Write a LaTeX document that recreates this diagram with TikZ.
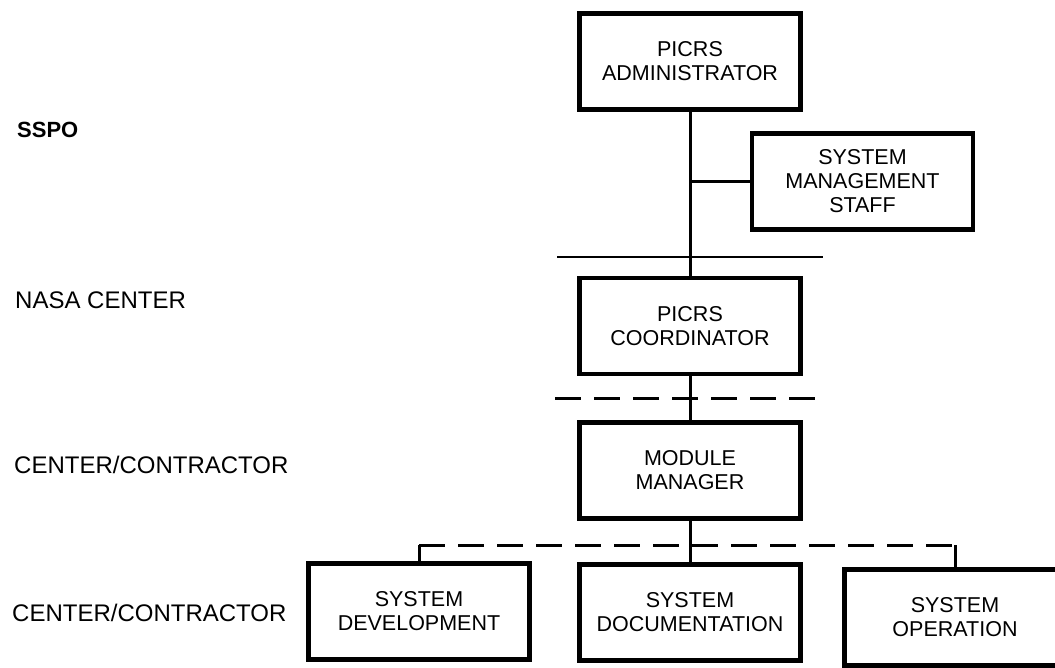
\documentclass[tikz,border=0pt]{standalone}
\usepackage{fontspec}
\setmainfont{Liberation Sans}
\begin{document}
\begin{tikzpicture}[x=1pt, y=-1pt, line join=miter,
    box/.style={draw, line width=4.5pt, minimum width=221pt, minimum height=96pt,
      align=center, inner sep=0pt, font=\fontsize{21.5}{24}\selectfont},
    link/.style={line width=3pt},
    dashlink/.style={line width=3pt, dash pattern=on 26pt off 13pt},
    level/.style={anchor=west, inner sep=0pt, font=\fontsize{24}{28}\selectfont}]
  \useasboundingbox (0,0) rectangle (1055,667);
  \clip (0,0) rectangle (1055,667);
  % levels
  \node[level, font=\fontsize{22}{26}\selectfont\bfseries] (sspo) at (17,130) {SSPO};
  \node[level] (nasa) at (15,300) {NASA CENTER};
  \node[level] (cc1) at (14,465) {CENTER/CONTRACTOR};
  \node[level] (cc2) at (12,613) {CENTER/CONTRACTOR};
  % boxes
  \node[box] (admin) at (690,61.5) {PICRS\\ADMINISTRATOR};
  \node[box] (staff) at (862.5,181.5) {SYSTEM\\MANAGEMENT\\STAFF};
  \node[box] (coord) at (690,326) {PICRS\\COORDINATOR};
  \node[box] (module) at (690,470.5) {MODULE\\MANAGER};
  \node[box] (devel) at (419,611.5) {SYSTEM\\DEVELOPMENT};
  \node[box] (docu) at (690,612.5) {SYSTEM\\DOCUMENTATION};
  \node[box] (oper) at (955,617.5) {SYSTEM\\OPERATION};
  % dividers
  \draw[line width=2.4pt] (557,257) -- (823,257);
  \draw[dashlink] (555,398) -- (823,398);
  % connectors
  \coordinate (split) at (690,545);
  \draw[link] (admin) -- (coord);
  \draw[link] (admin |- staff) -- (staff);
  \draw[link] (coord) -- (module);
  \draw[link] (module) -- (docu);
  \draw[link] (devel.north) -- (devel.north |- split);
  \draw[link] (oper.north) -- (oper.north |- split);
  \draw[dashlink] (devel.north |- split) -- (oper.north |- split);
\end{tikzpicture}
\end{document}
